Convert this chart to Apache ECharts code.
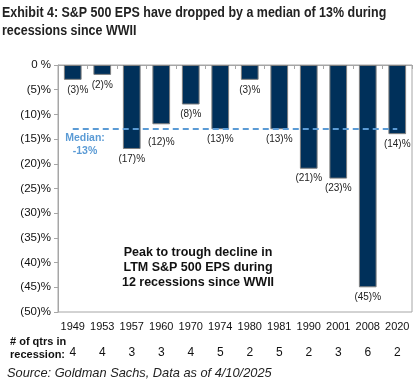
<!DOCTYPE html>
<html>
<head>
<meta charset="utf-8">
<script src="https://cdn.jsdelivr.net/npm/echarts@6/dist/echarts.min.js"></script>
<style>
html,body{margin:0;padding:0;background:#fff;}
#chart{width:418px;height:386px;}
</style>
</head>
<body>
<div id="chart"></div>
<script>
var years = ['1949','1953','1957','1960','1970','1974','1980','1981','1990','2001','2008','2020'];
var epsDecline = [-3, -2, -17, -12, -8, -13, -3, -13, -21, -23, -45, -14];
var qtrsInRecession = ['4','4','3','3','4','5','2','5','2','3','6','2'];
var medianValue = -13;

var chart = echarts.init(document.getElementById('chart'), null, {renderer: 'canvas'});
var FONT = '"Liberation Sans", Arial, sans-serif';

// per-bar label placement tweaks (style only)
var labelTweaks = {0: {offset: [5, 0]}, 3: {distance: 13}};
var barData = epsDecline.map(function (v, i) {
  var d = {value: v};
  if (labelTweaks[i]) d.label = labelTweaks[i];
  return d;
});

var option = {
  animation: false,
  backgroundColor: '#ffffff',
  textStyle: {fontFamily: FONT},
  grid: {left: 58, right: 6, top: 65, bottom: 74, show: true, borderColor: '#a6a6a6', borderWidth: 1, backgroundColor: 'transparent'},
  xAxis: [
    {
      type: 'category', data: years, position: 'bottom',
      axisLine: {show: false}, axisTick: {show: false},
      axisLabel: {color: '#111', fontSize: 11, margin: 9, interval: 0, fontFamily: FONT}
    },
    {
      type: 'category', data: years, position: 'top',
      axisLine: {show: true, lineStyle: {color: '#a6a6a6'}},
      axisTick: {show: true, inside: true, length: 4, interval: 0, lineStyle: {color: '#a6a6a6'}},
      axisLabel: {show: false}
    },
    {
      type: 'category', data: qtrsInRecession, position: 'bottom', offset: 27,
      axisLine: {show: false}, axisTick: {show: false},
      axisLabel: {color: '#111', fontSize: 12, margin: 8, interval: 0, fontFamily: FONT}
    }
  ],
  yAxis: {
    type: 'value', min: -50, max: 0, interval: 5,
    splitLine: {show: false},
    axisLine: {show: true, lineStyle: {color: '#a6a6a6'}},
    axisTick: {show: true, length: 4, lineStyle: {color: '#a6a6a6'}},
    axisLabel: {
      color: '#111', fontSize: 11.5, margin: 7, fontFamily: FONT,
      formatter: function (v) { return v === 0 ? '0 %' : '(' + Math.abs(v) + ')%'; }
    }
  },
  series: [{
    type: 'bar',
    xAxisIndex: 0,
    data: barData,
    barWidth: '60%',
    itemStyle: {color: '#00305a', borderColor: '#7f7f7f', borderWidth: 1},
    label: {
      show: true, position: 'bottom', distance: 5,
      color: '#222', fontSize: 10, fontFamily: FONT,
      formatter: function (p) { return '(' + Math.abs(p.value) + ')%'; }
    },
    markLine: {
      silent: true, symbol: 'none',
      label: {show: false},
      lineStyle: {color: '#5b9bd5', width: 2, type: [6, 4]},
      data: [[{coord: [years[0], medianValue]}, {coord: [years[years.length - 1], medianValue]}]]
    }
  }],
  graphic: [
    {type: 'text', x: 2, y: 4, scaleX: 0.89, style: {text: 'Exhibit 4: S&P 500 EPS have dropped by a median of 13% during\nrecessions since WWII', fill: '#222', font: 'bold 14px ' + FONT, lineHeight: 18}},
    {type: 'text', x: 85, y: 132, style: {text: 'Median:\n-13%', fill: '#5b9bd5', font: 'bold 10.5px ' + FONT, align: 'center', lineHeight: 13}},
    {type: 'text', x: 198, y: 245, style: {text: 'Peak to trough decline in\nLTM S&P 500 EPS during\n12 recessions since WWII', fill: '#111', font: 'bold 12.5px ' + FONT, align: 'center', lineHeight: 15}},
    {type: 'text', x: 10, y: 335, style: {text: '# of qtrs in\nrecession:', fill: '#111', font: 'bold 11px ' + FONT, lineHeight: 13}},
    {type: 'text', x: 7, y: 367, style: {text: 'Source: Goldman Sachs, Data as of 4/10/2025', fill: '#222', font: 'italic 12.8px ' + FONT}}
  ]
};
chart.setOption(option);
</script>
</body>
</html>
